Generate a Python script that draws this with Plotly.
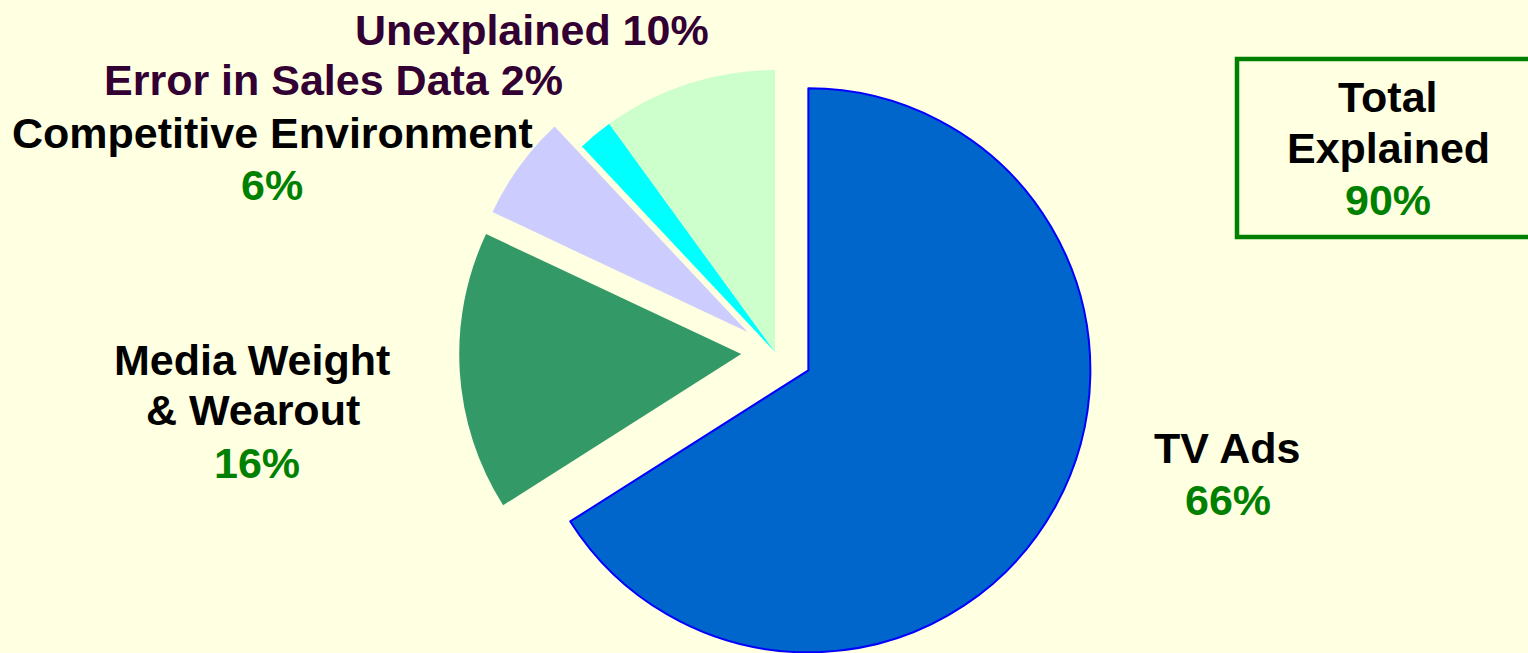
import math
import plotly.graph_objects as go

# Share of sales variation attributed to each driver (percent)
categories = ["TV Ads", "Media Weight & Wearout", "Competitive Environment",
              "Error in Sales Data", "Unexplained"]
values = [66, 16, 6, 2, 10]
pulls = [0.135, 0.12, 0.12, 0.0, 0.0]
colors = ["#0066CC", "#339966", "#CCCCFF", "#00FFFF", "#CCFFCC"]
outline_colors = ["#0000FF", None, None, None, None]

W, H = 1528, 653
BG = "#FFFFE1"
GREEN = "#008000"
PURPLE = "#330033"
FONT = "Liberation Sans, Arial, sans-serif"

# pie geometry in pixels: common centre and radius
CX, CY, R = 775, 352, 282

fig = go.Figure()
total = sum(values)
cum = 0.0
for i, (name, v) in enumerate(zip(categories, values)):
    f0, f1 = cum / total, (cum + v) / total
    cum += v
    theta = 2 * math.pi * (f0 + f1) / 2  # clockwise from 12 o'clock
    cx = CX + pulls[i] * R * math.sin(theta)
    cy = CY - pulls[i] * R * math.cos(theta)
    dom_x = [(cx - R) / W, (cx + R) / W]
    dom_y = [max(0.0, 1 - (cy + R) / H), min(1.0, 1 - (cy - R) / H)]
    slice_colors = ["rgba(0,0,0,0)"] * len(values)
    slice_colors[i] = colors[i]
    line_w = [0] * len(values)
    line_c = ["rgba(0,0,0,0)"] * len(values)
    if outline_colors[i]:
        line_w[i] = 2
        line_c[i] = outline_colors[i]
    fig.add_trace(go.Pie(
        labels=categories, values=values, sort=False, direction="clockwise",
        rotation=0, textinfo="none", hoverinfo="skip", showlegend=False,
        marker=dict(colors=slice_colors, line=dict(color=line_c, width=line_w)),
        domain=dict(x=dom_x, y=dom_y),
    ))

def label(text, x, y, color="black", size=43):
    fig.add_annotation(text=f"<b>{text}</b>", x=x / W, y=1 - y / H,
                       xref="paper", yref="paper", xanchor="center", yanchor="middle",
                       showarrow=False, font=dict(family=FONT, size=size, color=color))

val = dict(zip(categories, values))
label(f"Unexplained {val['Unexplained']}%", 532, 30, PURPLE)
label(f"Error in Sales Data {val['Error in Sales Data']}%", 333, 80, PURPLE)
label("Competitive Environment", 272, 133)
label(f"{val['Competitive Environment']}%", 272, 185, GREEN)
label("Media Weight", 252, 360)
label("&amp; Wearout", 253, 410)
label(f"{val['Media Weight & Wearout']}%", 257, 463, GREEN)
label("TV Ads", 1227, 448)
label(f"{val['TV Ads']}%", 1228, 500, GREEN)

explained = total - val["Unexplained"]
label("Total", 1388, 97)
label("Explained", 1388, 148)
label(f"{explained}%", 1388, 200, GREEN)

fig.add_shape(type="rect", xref="paper", yref="paper",
              x0=1237 / W, x1=1545 / W, y0=1 - 237 / H, y1=1 - 59 / H,
              line=dict(color=GREEN, width=4.5), fillcolor="rgba(0,0,0,0)")

fig.update_layout(width=W, height=H, margin=dict(l=0, r=0, t=0, b=0),
                  paper_bgcolor=BG, plot_bgcolor=BG)
fig.write_html("out.html")
